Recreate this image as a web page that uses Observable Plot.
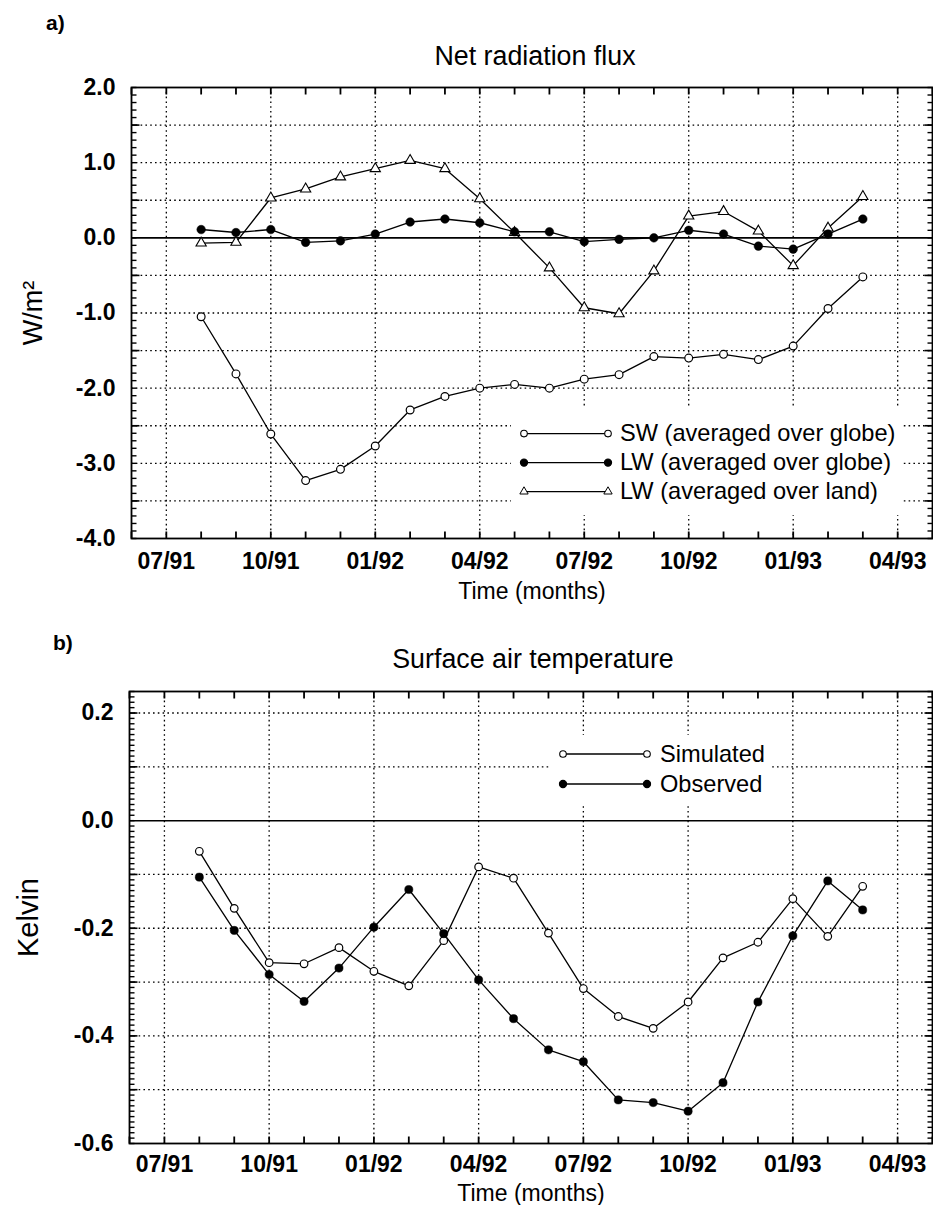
<!DOCTYPE html>
<html>
<head>
<meta charset="utf-8">
<script src="https://cdn.jsdelivr.net/npm/d3@7"></script>
<script src="https://cdn.jsdelivr.net/npm/@observablehq/plot@0.6"></script>
<style>
  body { margin: 0; background: #fff; }
  #page { position: relative; width: 933px; height: 1205px; overflow: hidden;
          font-family: "Liberation Sans", Arial, Helvetica, sans-serif; color: #000; background: #fff; }
  .abs { position: absolute; white-space: nowrap; line-height: 1; }
  .panel { position: absolute; left: 0; }
  .legend { position: absolute; background: #fff; box-sizing: border-box; }
  .legend .row { display: flex; align-items: center; white-space: nowrap; font-size: 23.6px; }
  .legend svg { display: block; }
</style>
</head>
<body>
<div id="page"></div>
<script>
// ---------- data ----------
const axisMonths = ["06/91","07/91","08/91","09/91","10/91","11/91","12/91",
                    "01/92","02/92","03/92","04/92","05/92","06/92","07/92","08/92","09/92","10/92","11/92","12/92",
                    "01/93","02/93","03/93","04/93","05/93"];
const months = ["08/91","09/91","10/91","11/91","12/91",
                "01/92","02/92","03/92","04/92","05/92","06/92","07/92","08/92","09/92","10/92","11/92","12/92",
                "01/93","02/93","03/93"];
const xTickLabels = ["07/91","10/91","01/92","04/92","07/92","10/92","01/93","04/93"];

// panel a: net radiation flux (W/m2)
const swGlobe = [-1.05,-1.81,-2.61,-3.23,-3.08,-2.77,-2.29,-2.11,-2.00,-1.95,-2.00,-1.88,-1.82,-1.58,-1.60,-1.55,-1.62,-1.44,-0.94,-0.52];
const lwGlobe = [0.11,0.07,0.11,-0.06,-0.04,0.05,0.21,0.25,0.20,0.08,0.08,-0.05,-0.02,0.00,0.10,0.05,-0.11,-0.15,0.05,0.25];
const lwLand  = [-0.07,-0.06,0.53,0.65,0.81,0.92,1.03,0.92,0.52,0.07,-0.40,-0.93,-1.01,-0.44,0.29,0.35,0.09,-0.37,0.13,0.55];
const yDomainA = [-4, 2];
const yTicksA = [-4,-3,-2,-1,0,1,2];
const yGridA = [-3.5,-3,-2.5,-2,-1.5,-1,-0.5,0.5,1,1.5];
const seriesA = ["SW (averaged over globe)","LW (averaged over globe)","LW (averaged over land)"];

// panel b: surface air temperature (K)
const simulated = [-0.057,-0.163,-0.264,-0.266,-0.236,-0.280,-0.307,-0.223,-0.086,-0.107,-0.209,-0.312,-0.364,-0.386,-0.337,-0.255,-0.226,-0.145,-0.215,-0.122];
const observed  = [-0.105,-0.204,-0.286,-0.336,-0.274,-0.198,-0.128,-0.210,-0.296,-0.368,-0.426,-0.448,-0.519,-0.524,-0.540,-0.487,-0.337,-0.214,-0.112,-0.166];
const yDomainB = [-0.6, 0.24];
const yTicksB = [-0.6,-0.4,-0.2,0,0.2];
const yGridB = [-0.5,-0.4,-0.3,-0.2,-0.1,0.1,0.2];
const seriesB = ["Simulated","Observed"];

// ---------- helpers ----------
const FONT = "Liberation Sans, Arial, Helvetica, sans-serif";
const monthIndex = m => axisMonths.indexOf(m);
const table = vals => months.map((m, i) => ({month: m, t: monthIndex(m), value: vals[i]}));
const fmt = d => d.toFixed(1);
const xTickIdx = xTickLabels.map(monthIndex);
const allIdx = axisMonths.map(monthIndex);
const xDomain = [0, axisMonths.length - 1];
const page = document.getElementById("page");

function addText(txt, left, top, size, weight, center) {
  const d = document.createElement("div");
  d.className = "abs";
  d.textContent = txt;
  d.style.left = left + "px";
  d.style.top = top + "px";
  d.style.fontSize = size + "px";
  d.style.fontWeight = weight;
  if (center) d.style.transform = "translateX(-50%)";
  page.appendChild(d);
}

// inward ticks on all four sides of the frame (tick lengths given in pixels, converted to scale units)
function frameTicks(yDom, innerW, innerH, yMinor, yMid) {
  const ypx = (yDom[1] - yDom[0]) / innerH;
  const xpx = (xDomain[1] - xDomain[0]) / innerW;
  const s = {stroke: "black", strokeLinecap: "butt"};
  const bottom = allIdx.map(t => ({t, a: yDom[0], b: yDom[0] + 7 * ypx}));
  const top = allIdx.map(t => ({t, a: yDom[1] - 7 * ypx, b: yDom[1]}));
  const left = yMinor.map(v => ({v, a: xDomain[0], b: xDomain[0] + 5 * xpx}));
  const right = yMinor.map(v => ({v, a: xDomain[1] - 5 * xpx, b: xDomain[1]}));
  const leftMid = yMid.map(v => ({v, a: xDomain[0], b: xDomain[0] + 8 * xpx}));
  const rightMid = yMid.map(v => ({v, a: xDomain[1] - 8 * xpx, b: xDomain[1]}));
  return [
    Plot.link(bottom, {x1: "t", x2: "t", y1: "a", y2: "b", strokeWidth: 1.8, ...s}),
    Plot.link(top, {x1: "t", x2: "t", y1: "a", y2: "b", strokeWidth: 1.8, ...s}),
    Plot.link(left, {y1: "v", y2: "v", x1: "a", x2: "b", strokeWidth: 1.4, ...s}),
    Plot.link(right, {y1: "v", y2: "v", x1: "a", x2: "b", strokeWidth: 1.4, ...s}),
    Plot.link(leftMid, {y1: "v", y2: "v", x1: "a", x2: "b", strokeWidth: 1.6, ...s}),
    Plot.link(rightMid, {y1: "v", y2: "v", x1: "a", x2: "b", strokeWidth: 1.6, ...s})
  ];
}

const gridStyle = {stroke: "black", strokeOpacity: 1, strokeWidth: 1.3, strokeDasharray: "1.6,3.2"};

// ---------- panel a ----------
const A = {w: 933, h: 610, mt: 87, mb: 72, ml: 131, mr: 1};
const plotA = Plot.plot({
  width: A.w, height: A.h,
  marginTop: A.mt, marginBottom: A.mb, marginLeft: A.ml, marginRight: A.mr,
  style: {fontFamily: FONT, background: "transparent", overflow: "visible", color: "black"},
  x: {domain: xDomain},
  y: {domain: yDomainA},
  marks: [
    Plot.gridX({ticks: xTickIdx, ...gridStyle}),
    Plot.gridY({ticks: yGridA, ...gridStyle}),
    Plot.ruleY([0], {stroke: "black", strokeWidth: 1.6}),
    ...frameTicks(yDomainA, A.w - A.ml - A.mr, A.h - A.mt - A.mb,
                  d3.range(-40, 21).map(i => i / 10), [-3.5,-2.5,-1.5,-0.5,0.5,1.5]),
    Plot.axisX({anchor: "bottom", ticks: xTickIdx, tickSize: 0, tickPadding: 14, tickFormat: i => axisMonths[i],
                fontSize: 23, fontWeight: "bold", label: null}),
    Plot.axisX({anchor: "bottom", ticks: [], label: "Time (months)", labelAnchor: "center", labelArrow: "none",
                labelOffset: 60.5, fontSize: 23}),
    Plot.axisY({anchor: "left", ticks: yTicksA, tickSize: 0, tickPadding: 16, tickFormat: fmt,
                fontSize: 23, fontWeight: "bold", label: null}),
    Plot.axisY({anchor: "left", ticks: [], label: "W/m²", labelAnchor: "center", labelArrow: "none",
                labelOffset: 109, fontSize: 27}),
    // LW land
    Plot.line(table(lwLand), {x: "t", y: "value", stroke: "black", strokeWidth: 1.3}),
    Plot.dot(table(lwLand), {x: "t", y: "value", symbol: "triangle", r: 3.8, fill: "white", stroke: "black", strokeWidth: 1.1}),
    // LW globe
    Plot.line(table(lwGlobe), {x: "t", y: "value", stroke: "black", strokeWidth: 1.4}),
    Plot.dot(table(lwGlobe), {x: "t", y: "value", r: 4.3, fill: "black", stroke: "black", strokeWidth: 0.5}),
    // SW globe
    Plot.line(table(swGlobe), {x: "t", y: "value", stroke: "black", strokeWidth: 1.3}),
    Plot.dot(table(swGlobe), {x: "t", y: "value", r: 3.9, fill: "white", stroke: "black", strokeWidth: 1.2}),
    Plot.frame({stroke: "black", strokeWidth: 1.8})
  ]
});
plotA.classList.add("panel");
plotA.style.top = "0px";
page.appendChild(plotA);

// ---------- panel b ----------
const B = {w: 933, h: 585, mt: 71, mb: 62, ml: 129, mr: 1};
const plotB = Plot.plot({
  width: B.w, height: B.h,
  marginTop: B.mt, marginBottom: B.mb, marginLeft: B.ml, marginRight: B.mr,
  style: {fontFamily: FONT, background: "transparent", overflow: "visible", color: "black"},
  x: {domain: xDomain},
  y: {domain: yDomainB},
  marks: [
    Plot.gridX({ticks: xTickIdx, ...gridStyle}),
    Plot.gridY({ticks: yGridB, ...gridStyle}),
    Plot.ruleY([0], {stroke: "black", strokeWidth: 1.5}),
    ...frameTicks(yDomainB, B.w - B.ml - B.mr, B.h - B.mt - B.mb,
                  d3.range(-60, 25).map(i => i / 100), [-0.5,-0.4,-0.3,-0.2,-0.1,0.1,0.2]),
    Plot.axisX({anchor: "bottom", ticks: xTickIdx, tickSize: 0, tickPadding: 12.5, tickFormat: i => axisMonths[i],
                fontSize: 23, fontWeight: "bold", label: null}),
    Plot.axisX({anchor: "bottom", ticks: [], label: "Time (months)", labelAnchor: "center", labelArrow: "none",
                labelOffset: 57.5, fontSize: 23}),
    Plot.axisY({anchor: "left", ticks: yTicksB, tickSize: 0, tickPadding: 16, tickFormat: fmt,
                fontSize: 23, fontWeight: "bold", label: null}),
    Plot.axisY({anchor: "left", ticks: [], label: "Kelvin", labelAnchor: "center", labelArrow: "none",
                labelOffset: 112, fontSize: 29}),
    Plot.line(table(simulated), {x: "t", y: "value", stroke: "black", strokeWidth: 1.3}),
    Plot.line(table(observed), {x: "t", y: "value", stroke: "black", strokeWidth: 1.3}),
    Plot.dot(table(simulated), {x: "t", y: "value", r: 3.8, fill: "white", stroke: "black", strokeWidth: 1.2}),
    Plot.dot(table(observed), {x: "t", y: "value", r: 4.1, fill: "black", stroke: "black", strokeWidth: 0.5}),
    Plot.frame({stroke: "black", strokeWidth: 1.8})
  ]
});
plotB.classList.add("panel");
plotB.style.top = "620px";
page.appendChild(plotB);

// ---------- titles and panel labels ----------
addText("a)", 46, 12, 21, "bold", false);
addText("Net radiation flux", 535, 43, 26.8, "normal", true);
addText("b)", 53, 632, 21, "bold", false);
addText("Surface air temperature", 533, 646, 26.8, "normal", true);

// ---------- legends ----------
function legend(entries, left, top, width, lineHeight, lineLen, gap, padTop, padBottom) {
  const box = document.createElement("div");
  box.className = "legend";
  box.style.left = left + "px";
  box.style.top = (top - padTop) + "px";
  box.style.width = width + "px";
  box.style.paddingTop = padTop + "px";
  box.style.paddingBottom = padBottom + "px";
  box.style.paddingLeft = "8px";
  for (const e of entries) {
    const row = document.createElement("div");
    row.className = "row";
    row.style.lineHeight = lineHeight + "px";
    row.style.height = lineHeight + "px";
    const w = lineLen + 10, h = lineHeight, cy = h / 2;
    const s = d3.create("svg").attr("width", w).attr("height", h).style("margin-right", gap + "px");
    s.append("line").attr("x1", 5).attr("x2", 5 + lineLen).attr("y1", cy).attr("y2", cy)
      .attr("stroke", "black").attr("stroke-width", 1.3);
    for (const cx of [5, 5 + lineLen]) {
      if (e.symbol === "triangle") {
        s.append("path").attr("d", d3.symbol(d3.symbolTriangle, 30)())
          .attr("transform", `translate(${cx},${cy})`)
          .attr("fill", "white").attr("stroke", "black").attr("stroke-width", 1);
      } else {
        s.append("circle").attr("cx", cx).attr("cy", cy).attr("r", e.filled ? 3.6 : 3.3)
          .attr("fill", e.filled ? "black" : "white").attr("stroke", "black").attr("stroke-width", 1.1);
      }
    }
    row.appendChild(s.node());
    const t = document.createElement("span");
    t.textContent = e.label;
    row.appendChild(t);
    box.appendChild(row);
  }
  page.appendChild(box);
}

legend([
  {label: seriesA[0], symbol: "circle", filled: false},
  {label: seriesA[1], symbol: "circle", filled: true},
  {label: seriesA[2], symbol: "triangle", filled: false}
], 511, 419, 392, 29.2, 84, 7, 12, 8);

legend([
  {label: seriesB[0], symbol: "circle", filled: false},
  {label: seriesB[1], symbol: "circle", filled: true}
], 550, 739, 222, 30, 84, 8, 4, 6);
</script>
</body>
</html>
